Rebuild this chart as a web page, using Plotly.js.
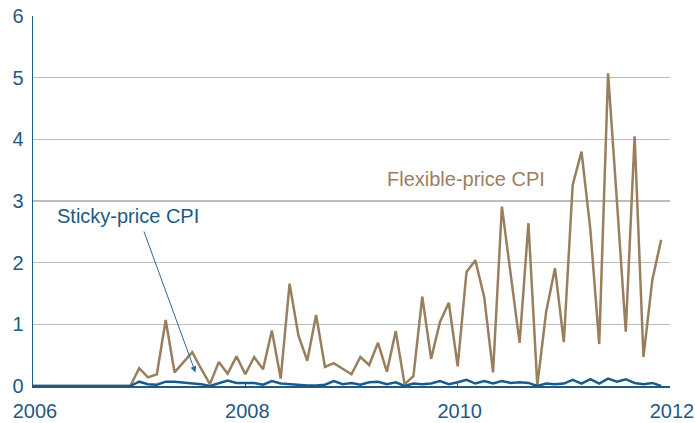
<!DOCTYPE html>
<html>
<head>
<meta charset="utf-8">
<script src="https://cdn.plot.ly/plotly-3.0.1.min.js"></script>
<style>html,body{margin:0;padding:0;background:#fff;}#chart{width:695px;height:423px;}</style>
</head>
<body>
<div id="chart"></div>
<script>
// Monthly observations, Jan 2006 .. Dec 2011
const startYear = 2006;
const flexiblePriceCPI = [
  0,0,0,0,0,0,0,0,0,0,0,0,            // 2006
  0.29,0.14,0.19,1.07,0.22,0.38,0.55,0.28,0.03,0.39,0.20,0.48, // 2007
  0.19,0.47,0.27,0.90,0.12,1.66,0.82,0.41,1.15,0.31,0.37,0.28, // 2008
  0.19,0.47,0.34,0.70,0.23,0.89,0.03,0.16,1.45,0.44,1.04,1.35, // 2009
  0.32,1.85,2.04,1.44,0.22,2.91,1.82,0.70,2.64,0.01,1.20,1.91, // 2010
  0.71,3.26,3.80,2.53,0.68,5.07,3.00,0.88,4.05,0.47,1.72,2.37  // 2011
];
const stickyPriceCPI = [
  0,0,0,0,0,0,0,0,0,0,0,0,            // 2006
  0.07,0.03,0.02,0.07,0.07,0.06,0.05,0.03,0.00,0.04,0.09,0.05, // 2007
  0.05,0.05,0.02,0.08,0.04,0.03,0.01,0.01,0.01,0.02,0.08,0.03, // 2008
  0.05,0.02,0.06,0.07,0.03,0.06,0.00,0.04,0.03,0.04,0.08,0.03, // 2009
  0.06,0.10,0.04,0.08,0.04,0.08,0.05,0.06,0.05,0.00,0.04,0.03, // 2010
  0.04,0.10,0.04,0.11,0.04,0.12,0.07,0.11,0.05,0.03,0.05,0.00  // 2011
];
const xTickValues = [2006, 2008, 2010, 2012];
const xTickLabels = ["2006", "2008", "2010", "2012"];
const yTickValues = [0, 1, 2, 3, 4, 5, 6];

const months = flexiblePriceCPI.map((_, i) => startYear + i / 12);

const BLUE = '#1d5a86';
const TEXTBLUE = '#1f5a82';
const BROWN = '#9a7f5f';
const FONT = 'Liberation Sans, Arial, sans-serif';

const traces = [
  { x: months, y: flexiblePriceCPI, type: 'scatter', mode: 'lines',
    line: { color: BROWN, width: 2.5 }, name: 'Flexible-price CPI', hoverinfo: 'skip' },
  { x: months, y: stickyPriceCPI, type: 'scatter', mode: 'lines',
    line: { color: BLUE, width: 2.5 }, name: 'Sticky-price CPI', hoverinfo: 'skip' }
];

const layout = {
  width: 695, height: 423,
  margin: { l: 33, r: 25, t: 16, b: 37, pad: 0 },
  paper_bgcolor: '#fff', plot_bgcolor: '#fff',
  showlegend: false,
  font: { family: FONT, color: TEXTBLUE, size: 20 },
  xaxis: {
    range: [2006, 2012], tickvals: xTickValues, ticktext: xTickLabels,
    showgrid: false, zeroline: false,
    showline: true, linecolor: BLUE, linewidth: 1.5,
    ticks: 'inside', ticklen: 4, tickcolor: BLUE, tickwidth: 1,
    ticklabelstandoff: 6, ticklabelshift: 2,
    tickfont: { size: 20, color: TEXTBLUE, family: FONT },
    fixedrange: true
  },
  yaxis: {
    range: [0, 6], tickvals: yTickValues,
    showgrid: true, gridcolor: '#bcbcbc', gridwidth: 1.5,
    zeroline: false,
    showline: true, linecolor: BLUE, linewidth: 1.5,
    ticks: '', ticklabelstandoff: 4,
    tickfont: { size: 20, color: TEXTBLUE, family: FONT },
    fixedrange: true
  },
  annotations: [
    { x: 2009.32, y: 3.35, xref: 'x', yref: 'y', text: 'Flexible-price CPI',
      showarrow: false, xanchor: 'left', yanchor: 'middle',
      font: { size: 20, color: BROWN, family: FONT } },
    { x: 2006.21, y: 2.75, xref: 'x', yref: 'y', text: 'Sticky-price CPI',
      showarrow: false, xanchor: 'left', yanchor: 'middle',
      font: { size: 20, color: TEXTBLUE, family: FONT } },
    { x: 2007.53, y: 0.22, xref: 'x', yref: 'y', ax: 2007.04, ay: 2.53,
      axref: 'x', ayref: 'y', text: '', showarrow: true,
      arrowhead: 2, arrowsize: 1.2, arrowwidth: 1, arrowcolor: '#2a6a98' }
  ]
};

Plotly.newPlot('chart', traces, layout, { displayModeBar: false, staticPlot: true });
</script>
</body>
</html>
